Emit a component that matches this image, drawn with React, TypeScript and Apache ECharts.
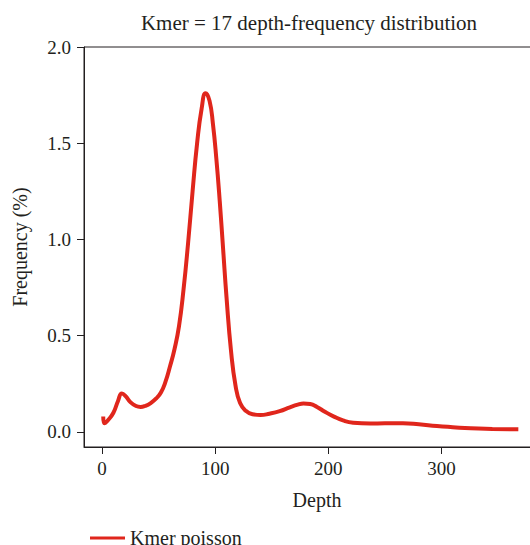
import React, { useEffect, useRef } from "react";
import * as echarts from "echarts";

const depth = [1, 2, 5, 10, 14, 17.5, 21, 25, 30, 34, 38, 43, 48, 52, 56, 60, 64, 68, 72, 76, 80, 84, 88, 91.5, 95, 98, 101, 104, 107, 110, 114, 118, 122, 127, 133, 140, 148, 157, 166, 173, 178, 184, 190, 197, 205, 213, 222, 237, 250, 266, 280, 296, 310, 326, 345, 368];
const freq = [0.08, 0.045, 0.06, 0.1, 0.16, 0.2, 0.185, 0.155, 0.135, 0.13, 0.135, 0.15, 0.175, 0.205, 0.26, 0.34, 0.43, 0.55, 0.74, 0.98, 1.25, 1.5, 1.68, 1.76, 1.72, 1.6, 1.42, 1.2, 0.95, 0.7, 0.42, 0.24, 0.15, 0.11, 0.092, 0.088, 0.095, 0.108, 0.128, 0.142, 0.148, 0.145, 0.13, 0.105, 0.08, 0.06, 0.048, 0.044, 0.045, 0.045, 0.04, 0.031, 0.025, 0.019, 0.016, 0.014];
const xTicks = [0, 100, 200, 300];
const yTicks = [0, 0.5, 1.0, 1.5, 2.0];

const FONT = "Liberation Serif";
const INK = "#231f20";

export default function App() {
  const ref = useRef<HTMLDivElement>(null);
  useEffect(() => {
    if (!ref.current) return;
    const chart = echarts.init(ref.current, null, { renderer: "svg" });
    const data = depth.map((d, i) => [d, freq[i]]);
    chart.setOption({
      animation: false,
      backgroundColor: "#fff",
      textStyle: { fontFamily: FONT },
      title: {
        text: "Kmer = 17 depth-frequency distribution",
        left: 304,
        textAlign: "center",
        top: 7,
        textStyle: { fontFamily: FONT, fontSize: 21, fontWeight: "normal", color: INK },
      },
      legend: {
        left: 85,
        top: 523,
        icon: "rect",
        itemWidth: 35,
        itemHeight: 3,
        itemGap: 10,
        textStyle: { fontFamily: FONT, fontSize: 20, color: INK },
        data: ["Kmer poisson"],
      },
      grid: {
        left: 84,
        right: -20,
        top: 47,
        bottom: 98,
        outerBoundsMode: "none",
        containLabel: false,
        show: true,
        borderColor: INK,
        borderWidth: 1,
        backgroundColor: "transparent",
      },
      xAxis: {
        type: "value",
        min: -16,
        max: 396,
        name: "Depth",
        nameLocation: "middle",
        nameGap: 43,
        nameTextStyle: { fontFamily: FONT, fontSize: 20, color: INK },
        axisLine: { show: true, onZero: false, lineStyle: { color: INK, width: 1 } },
        axisTick: { show: true, length: 7, customValues: xTicks, lineStyle: { color: INK } },
        axisLabel: {
          customValues: xTicks,
          margin: 12,
          fontFamily: FONT,
          fontSize: 19,
          color: INK,
        },
        splitLine: { show: false },
      },
      yAxis: {
        type: "value",
        min: -0.078,
        max: 2.0,
        name: "Frequency (%)",
        nameLocation: "middle",
        nameGap: 54,
        nameTextStyle: { fontFamily: FONT, fontSize: 20, color: INK },
        axisLine: { show: true, onZero: false, lineStyle: { color: INK, width: 1 } },
        axisTick: { show: true, length: 7, customValues: yTicks, lineStyle: { color: INK } },
        axisLabel: {
          customValues: yTicks,
          margin: 13,
          fontFamily: FONT,
          fontSize: 19,
          color: INK,
          formatter: (v: number) => v.toFixed(1),
        },
        splitLine: { show: false },
      },
      series: [
        {
          name: "Kmer poisson",
          type: "line",
          data,
          smooth: 0.5,
          showSymbol: false,
          symbol: "none",
          lineStyle: { color: "#e0261c", width: 4 },
          itemStyle: { color: "#e0261c" },
        },
      ],
    });
    return () => chart.dispose();
  }, []);
  return (
    <div
      ref={ref}
      style={{ position: "fixed", left: 0, top: 0, width: 530, height: 545 }}
    />
  );
}
